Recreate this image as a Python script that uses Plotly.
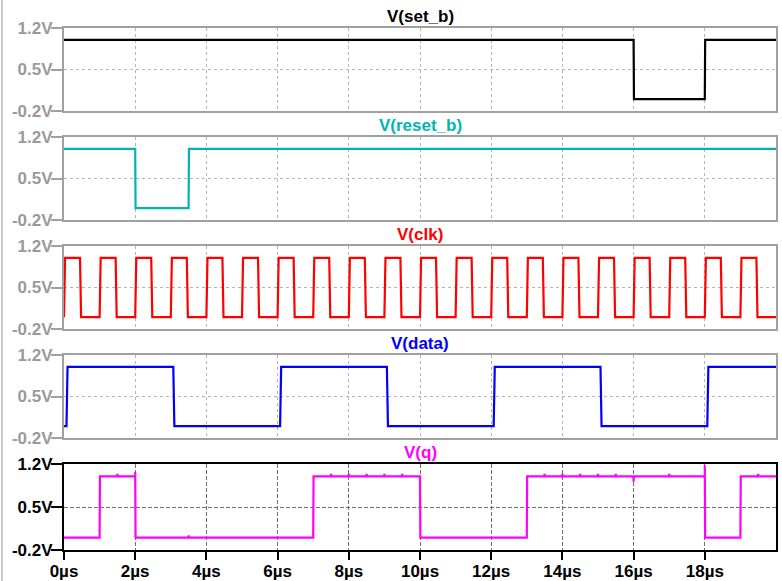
import plotly.graph_objects as go
from plotly.subplots import make_subplots

# ---- waveform data (transient simulation, time in µs, voltage in V) ----
t_end = 20.0

# set_b: active-low set pulse
set_b_start = 1
set_b_edges = [16.0, 18.0]

# reset_b: active-low reset pulse
reset_b_start = 1
reset_b_edges = [2.0, 3.5]

# clk: 1 µs period square wave, starts low and rises at t=0
clk_start = 0
clk_edges = [0.0, 0.45, 1.0, 1.45, 2.0, 2.45, 3.0, 3.45, 4.0, 4.45,
             5.0, 5.45, 6.0, 6.45, 7.0, 7.45, 8.0, 8.45, 9.0, 9.45,
             10.0, 10.45, 11.0, 11.45, 12.0, 12.45, 13.0, 13.45, 14.0, 14.45,
             15.0, 15.45, 16.0, 16.45, 17.0, 17.45, 18.0, 18.45, 19.0, 19.45]

# data: 6 µs period, 3 µs wide pulses
data_start = 0
data_edges = [0.07, 3.07, 6.07, 9.07, 12.07, 15.07, 18.07]

# q: flip-flop output with small feed-through glitches
q_start = 0
q_edges = [1.0, 2.0, 7.0, 10.0, 13.0, 18.0, 19.0]
q_spike_t = [2.0, 18.0]
q_spike_v = [1.07, 1.18]
q_glitch_t = [1.5, 3.5, 7.5, 8.0, 8.5, 9.0, 9.5, 13.5, 14.0, 14.5,
              15.0, 15.5, 16.0, 17.0, 19.5]
q_glitch_dv = [0.04, 0.04, 0.04, 0.04, 0.04, 0.04, 0.04, 0.04, 0.04, 0.04,
               0.04, 0.04, -0.09, 0.04, 0.04]

y_tickvals = [-0.2, 0.5, 1.2]
y_ticktext = ["-0.2V", "0.5V", "1.2V"]
x_tickvals = [0, 2, 4, 6, 8, 10, 12, 14, 16, 18]
x_ticktext = ["0µs", "2µs", "4µs", "6µs", "8µs", "10µs", "12µs", "14µs", "16µs", "18µs"]


def wave(edges, start, tr, glitch_t=(), glitch_dv=(), spike_t=(), spike_v=()):
    """Turn a list of toggle times into a piecewise-linear logic waveform."""
    events = [(t, 0, 0.0) for t in edges] + [(t, 1, dv) for t, dv in zip(glitch_t, glitch_dv)]
    events.sort()
    spikes = dict(zip(spike_t, spike_v))
    ts, vs = [0.0], [float(start)]
    lvl = start
    for t, kind, dv in events:
        if kind == 0:
            ts.append(t); vs.append(lvl)
            if t in spikes:
                ts.append(t); vs.append(spikes[t])
            lvl = 1 - lvl
            ts.append(t + tr); vs.append(lvl)
        else:
            ts += [t - 0.006, t, t + 0.006]
            vs += [lvl, lvl + dv, lvl]
    ts.append(t_end); vs.append(lvl)
    return ts, vs


signals = [
    ("V(set_b)", "#000000", wave(set_b_edges, set_b_start, 0.01)),
    ("V(reset_b)", "#00b4b4", wave(reset_b_edges, reset_b_start, 0.01)),
    ("V(clk)", "#ff0000", wave(clk_edges, clk_start, 0.03)),
    ("V(data)", "#0000ff", wave(data_edges, data_start, 0.03)),
    ("V(q)", "#ff00ff", wave(q_edges, q_start, 0.01, q_glitch_t, q_glitch_dv,
                              q_spike_t, q_spike_v)),
]

W, H = 782, 581
ML, MR, MT, MB = 64, 6, 28, 31
ph = H - MT - MB

def py(pix):
    return (H - MB - pix) / ph

def px(pix):
    return (pix - ML) / (W - ML - MR)

panel_px = [(28, 111), (137, 220), (246, 329), (355, 438), (464, 550)]
title_px = [16, 125, 234, 343, 452]

fig = make_subplots(rows=5, cols=1, shared_xaxes=False)
FONT = "Liberation Sans, Arial, sans-serif"

for i, (name, color, (ts, vs)) in enumerate(signals):
    r = i + 1
    fig.add_trace(go.Scatter(x=ts, y=vs, mode="lines",
                             line=dict(color=color, width=2.2),
                             showlegend=False, hoverinfo="skip"), row=r, col=1)
    active = (r == 5)
    frame = "#000000" if active else "#a0a0a0"
    label = "#000000" if active else "#9a9a9a"
    grid = "#707070" if active else "#b4b4b4"
    gdash = "4px,2px" if active else "dot"
    top, bot = panel_px[i]
    fig.update_yaxes(row=r, col=1, range=[-0.2, 1.2], domain=[py(bot), py(top)],
                     tickvals=y_tickvals, ticktext=y_ticktext, automargin=False,
                     ticks="outside", ticklen=11, tickwidth=2, tickcolor=frame,
                     ticklabelstandoff=-5,
                     tickfont=dict(family=FONT, size=17, color=label, weight="bold"),
                     showline=True, mirror=True, linecolor=frame, linewidth=2,
                     showgrid=True, gridcolor=grid, griddash=gdash, gridwidth=1,
                     zeroline=False, fixedrange=True)
    fig.update_xaxes(row=r, col=1, range=[0, t_end], tickvals=x_tickvals,
                     ticktext=x_ticktext, showticklabels=active, automargin=False,
                     ticks="outside" if active else "", ticklen=8, tickwidth=2,
                     tickcolor=frame, ticklabelstandoff=-3,
                     tickfont=dict(family=FONT, size=17, color=label, weight="bold"),
                     showline=True, mirror=True, linecolor=frame, linewidth=2,
                     showgrid=True, gridcolor=grid, griddash=gdash, gridwidth=1,
                     zeroline=False, fixedrange=True)
    fig.add_annotation(text=name, xref="paper", yref="paper", x=0.5, y=py(title_px[i]),
                       xanchor="center", yanchor="middle", showarrow=False,
                       font=dict(family=FONT, size=17, color=color, weight="bold"))

# thin window border on the far left
fig.add_shape(type="line", xref="paper", yref="paper",
              x0=px(2), x1=px(2), y0=py(H), y1=py(0),
              line=dict(color="#c8c8c8", width=2))

fig.update_layout(width=W, height=H, margin=dict(l=ML, r=MR, t=MT, b=MB),
                  paper_bgcolor="white", plot_bgcolor="white")

fig.write_html("out.html")
